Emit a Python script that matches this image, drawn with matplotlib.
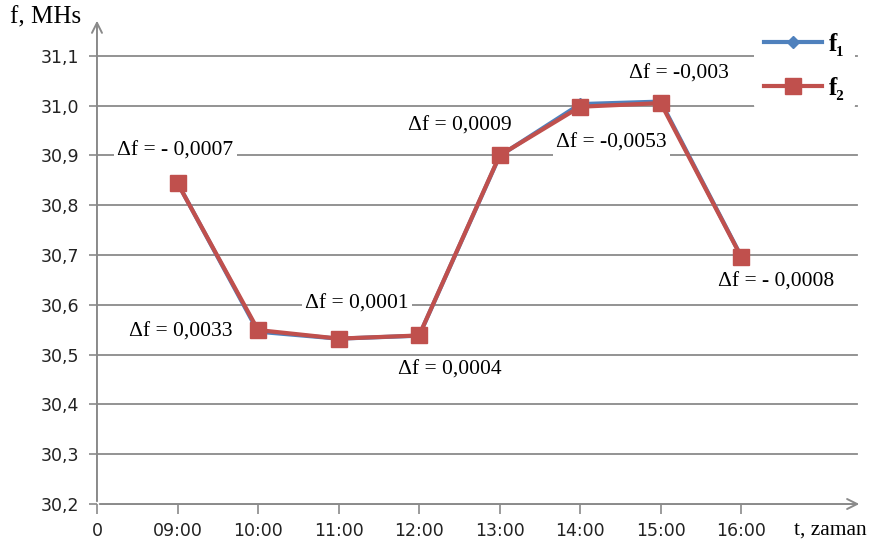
import numpy as np
import matplotlib.pyplot as plt

# --- Dati ---
ore = ['0', '09:00', '10:00', '11:00', '12:00', '13:00', '14:00', '15:00', '16:00']
f1 = np.array([30.845, 30.546, 30.532, 30.538, 30.899, 31.003, 31.008, 30.697])
delta_f = np.array([-0.0007, 0.0033, 0.0001, 0.0004, 0.0009, -0.0053, -0.003, -0.0008])
f2 = f1 + delta_f
etichette_df = ['\u0394f = - 0,0007', '\u0394f = 0,0033', '\u0394f = 0,0001', '\u0394f = 0,0004',
                '\u0394f = 0,0009', '\u0394f = -0,0053', '\u0394f = -0,003', '\u0394f = - 0,0008']
# spostamento delle etichette rispetto al punto (pixel)
spost_df = [(-2, 32), (-77, 0), (18, 35), (31, -34), (-40, 30), (31, -39), (18, 28), (35, -26)]

blu = '#4F81BD'
rosso = '#C0504D'
grigio = '#8a8a8a'
serif = ['Liberation Serif', 'DejaVu Serif']

fig = plt.figure(figsize=(8.69, 5.43), dpi=100)
ax = fig.add_axes([0.1116, 0.0718, 0.8804, 0.8952])

x = np.arange(1, len(f1) + 1)
ax.plot(x, f1, color=blu, lw=3, marker='D', ms=6, label='f\u2081', zorder=3)
ax.plot(x, f2, color=rosso, lw=3, marker='s', ms=11, label='f\u2082', zorder=4)

for xi, yi, testo, off in zip(x, f1, etichette_df, spost_df):
    ax.annotate(testo, xy=(xi, yi), xytext=off, textcoords='offset pixels',
                ha='center', va='center', fontsize=15.5, family=serif,
                bbox=dict(boxstyle='square,pad=0.15', fc='white', ec='none'), zorder=5)

ax.set_xlim(0, 9.5)
ax.set_ylim(30.2, 31.176)
ax.set_yticks(np.arange(30.2, 31.15, 0.1))
ax.set_yticklabels([f'{v:.1f}'.replace('.', ',') for v in np.arange(30.2, 31.15, 0.1)],
                   fontsize=12.5, color='#222222')
ax.set_xticks(np.arange(0, 9))
ax.set_xticklabels(ore, fontsize=12.5, color='#222222')
ax.tick_params(axis='y', length=6, width=1.2, color=grigio, pad=7)
ax.tick_params(axis='x', length=7, width=1.2, color=grigio, pad=6)

# griglia orizzontale
for v in np.arange(30.3, 31.15, 0.1):
    ax.axhline(v, xmin=0, xmax=9.44 / 9.5, color=grigio, lw=1.3, zorder=1)

for s in ax.spines.values():
    s.set_visible(False)
# assi con freccia
ax.annotate('', xy=(1.0, 0), xytext=(0, 0), xycoords='axes fraction',
            arrowprops=dict(arrowstyle='->', color=grigio, lw=1.4, mutation_scale=18))
ax.annotate('', xy=(0, 1.0), xytext=(0, 0), xycoords='axes fraction',
            arrowprops=dict(arrowstyle='->', color=grigio, lw=1.4, mutation_scale=18))

fig.text(0.012, 0.967, 'f, MHs', fontsize=18, family=serif, va='center', ha='left')
fig.text(0.997, 0.024, 't, zaman', fontsize=15.5, family=serif, va='center', ha='right')

leg = ax.legend(loc='upper right', bbox_to_anchor=(0.997, 1.0), frameon=True,
                handlelength=2.3, handletextpad=0.3, labelspacing=0.85, borderaxespad=0.2,
                prop={'family': serif, 'weight': 'bold', 'size': 18})
leg.get_frame().set_edgecolor('none')
leg.get_frame().set_facecolor('white')
leg.get_frame().set_alpha(1)
leg.set_zorder(6)

fig.savefig('out.png', dpi=100)
